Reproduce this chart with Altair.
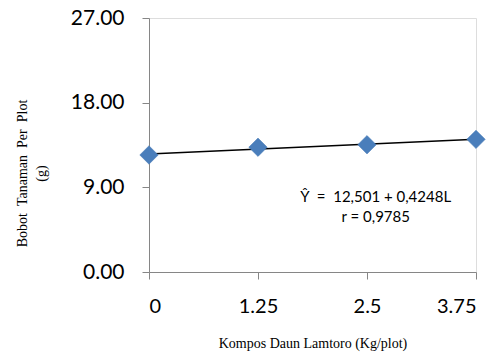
import altair as alt
import pandas as pd

NB = "\u00a0"
kompos = [0, 1.25, 2.5, 3.75]
bobot = [12.44, 13.26, 13.53, 14.10]
trend_x = [0, 3.75]
trend_y = [12.55, 14.12]
x_ticks = [0, 1.25, 2.5, 3.75]
y_ticks = [0, 9, 18, 27]
eq_lines = ["Ŷ" + NB * 2 + "=" + NB * 2 + "12,501 + 0,4248L", "r = 0,9785"]
y_title = ["Bobot" + NB * 2 + "Tanaman" + NB * 2 + "Per" + NB * 2 + "Plot", "(g)"]

pts = pd.DataFrame({"x": kompos, "y": bobot})
tr = pd.DataFrame({"x": trend_x, "y": trend_y})
ann = pd.DataFrame({"x": [2.60, 2.60], "y": [7.95, 5.85], "t": eq_lines})

xs = alt.Scale(domain=[0, 3.75], nice=False, zero=False)
ys = alt.Scale(domain=[0, 27], nice=False)

xaxis = alt.Axis(values=x_ticks, labelExpr="'' + datum.value", title="Kompos Daun Lamtoro (Kg/plot)",
                 grid=False, domainColor="#868686", tickColor="#868686", tickSize=7,
                 labelFont="Lato", labelFontSize=20, labelColor="#000000", labelPadding=17,
                 titleFont="Liberation Serif", titleFontSize=14, titleFontWeight="normal",
                 titleColor="#000000", titlePadding=20)
yaxis = alt.Axis(values=y_ticks, format=".2f", title=y_title,
                 grid=False, domainColor="#868686", tickColor="#868686", tickSize=7,
                 labelFont="Lato", labelFontSize=21, labelColor="#000000", labelPadding=18,
                 titleFont="Liberation Serif", titleFontSize=14, titleFontWeight="normal",
                 titleColor="#000000", titlePadding=22, titleLineHeight=19, titleY=155)

line = alt.Chart(tr).mark_line(color="#000000", strokeWidth=1.5).encode(
    x=alt.X("x:Q", scale=xs, axis=xaxis),
    y=alt.Y("y:Q", scale=ys, axis=yaxis),
)
points = alt.Chart(pts).mark_point(shape="diamond", filled=True, size=340, color="#4a7ebb",
                                   opacity=1, stroke="#4578b5", strokeWidth=0.5).encode(
    x=alt.X("x:Q", scale=xs),
    y=alt.Y("y:Q", scale=ys),
)
text = alt.Chart(ann).mark_text(font="Lato", fontSize=15, color="#000000").encode(
    x=alt.X("x:Q", scale=xs),
    y=alt.Y("y:Q", scale=ys),
    text="t:N",
)

chart = alt.layer(line, points, text).properties(
    width=327, height=254, autosize="none",
    padding={"left": 141, "top": 10, "right": 17, "bottom": 90},
).configure_view(stroke=None).configure(background="#ffffff")

chart.save("out.html", embed_options={"renderer": "svg", "actions": False})
